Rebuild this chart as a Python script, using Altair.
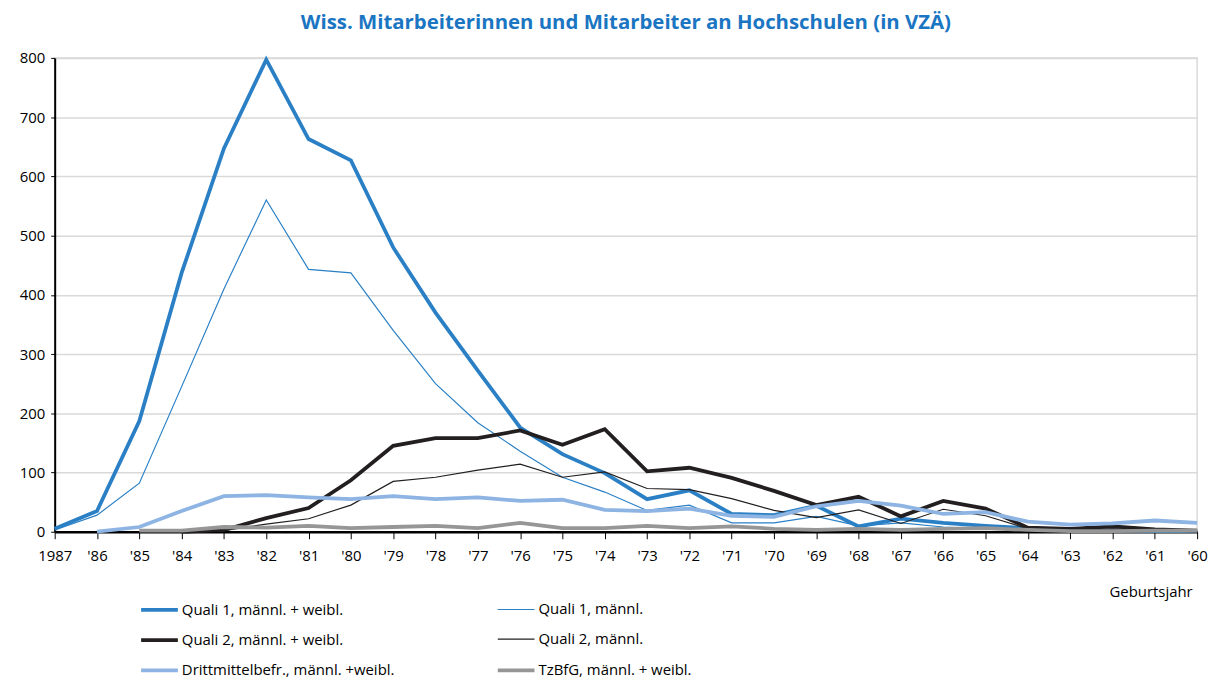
import altair as alt
import pandas as pd

years = ["1987", "'86", "'85", "'84", "'83", "'82", "'81", "'80", "'79", "'78", "'77", "'76", "'75", "'74",
         "'73", "'72", "'71", "'70", "'69", "'68", "'67", "'66", "'65", "'64", "'63", "'62", "'61", "'60"]

quali1_mw = [5, 35, 187, 437, 647, 797, 663, 627, 480, 370, 272, 176, 131, 99,
             55, 70, 30, 28, 44, 9, 22, 15, 10, 6, 3, 2, 1, 1]
quali1_m = [3, 28, 82, 245, 410, 560, 443, 437, 340, 250, 184, 136, 92, 67,
            36, 45, 15, 15, 26, 10, 15, 8, 5, 3, 2, 1, 1, 1]
quali2_mw = [None, None, None, 0, 3, 23, 40, 87, 145, 158, 158, 171, 147, 173,
             102, 108, 91, 69, 45, 59, 26, 52, 39, 7, 5, 9, 4, 2]
quali2_m = [None, None, None, 0, 2, 13, 22, 45, 85, 92, 104, 114, 92, 101,
            73, 71, 56, 36, 24, 37, 14, 38, 27, 5, 3, 5, 3, 2]
drittmittel = [None, 0, 8, 35, 60, 62, 58, 55, 60, 55, 58, 52, 54, 37,
               35, 39, 27, 25, 43, 52, 44, 30, 33, 17, 12, 14, 19, 15]
tzbfg = [None, None, 2, 2, 8, 7, 10, 6, 8, 10, 6, 15, 6, 6,
         10, 6, 9, 5, 3, 5, 3, 5, 6, 3, 1, 1, 2, 2]

series_names = ["Quali 1, männl. + weibl.", "Quali 1, männl.",
                "Quali 2, männl. + weibl.", "Quali 2, männl.",
                "Drittmittelbefr., männl. +weibl.", "TzBfG, männl. + weibl."]
series_values = [quali1_mw, quali1_m, quali2_mw, quali2_m, drittmittel, tzbfg]
series_colors = ["#2b80c5", "#2b80c5", "#231f20", "#231f20", "#8db4e2", "#969696"]
series_widths = [3.8, 1.2, 3.8, 1.2, 3.8, 3.8]

rows = []
for name, vals in zip(series_names, series_values):
    for i, (y, v) in enumerate(zip(years, vals)):
        if v is not None:
            rows.append({"Jahr": y, "Wert": v, "Serie": name, "idx": i})
df = pd.DataFrame(rows)

font = "Open Sans"

legend_cfg = dict(title=None, orient="none", legendX=85, legendY=535,
                  columns=2, direction="horizontal", columnPadding=95, rowPadding=1.5,
                  symbolType="stroke", symbolSize=1369,
                  labelFont=font, labelFontSize=15, labelColor="#000",
                  labelOffset=2, labelLimit=400)

chart = alt.Chart(df).mark_line(strokeJoin="miter", strokeCap="butt").encode(
    x=alt.X("Jahr:N", sort=years,
            scale=alt.Scale(type="point", padding=0),
            axis=alt.Axis(title="Geburtsjahr", labelAngle=0, labelFontSize=15, labelFont=font,
                          labelColor="#000", labelPadding=10, tickSize=7, tickColor="#000",
                          domainColor="#000", domainWidth=2.5, titleFont=font, titleFontSize=15,
                          titleFontWeight="normal", titleColor="#000", titleAnchor="end",
                          titleAlign="right", titleX=1145, titleY=60, titleBaseline="middle",
                          grid=False)),
    y=alt.Y("Wert:Q", scale=alt.Scale(domain=[0, 800], nice=False),
            axis=alt.Axis(title=None, values=list(range(0, 801, 100)), labelFontSize=15,
                          labelFont=font, labelColor="#000", labelPadding=6, tickSize=4,
                          tickColor="#000", domainColor="#000", domainWidth=2,
                          gridColor="#d9d9d9", gridWidth=1.5)),
    color=alt.Color("Serie:N", sort=series_names,
                    scale=alt.Scale(domain=series_names, range=series_colors),
                    legend=alt.Legend(**legend_cfg)),
    strokeWidth=alt.StrokeWidth("Serie:N", sort=series_names,
                                scale=alt.Scale(type="ordinal", domain=series_names, range=series_widths),
                                legend=alt.Legend(**legend_cfg)),
    detail="Serie:N",
    order="idx:Q",
).properties(
    width=1150, height=477,
    title=alt.TitleParams("Wiss. Mitarbeiterinnen und Mitarbeiter an Hochschulen (in VZÄ)",
                          font="Open Sans", fontSize=20.5, fontWeight="bold", color="#1a75c2",
                          anchor="middle", offset=18),
    autosize=alt.AutoSizeParams(type="none"),
    padding={"left": 47, "top": 48, "right": 18, "bottom": 145},
).configure_view(stroke="#d9d9d9", strokeWidth=1.5)

chart.save("out.html", embed_options={"renderer": "svg", "actions": False})
